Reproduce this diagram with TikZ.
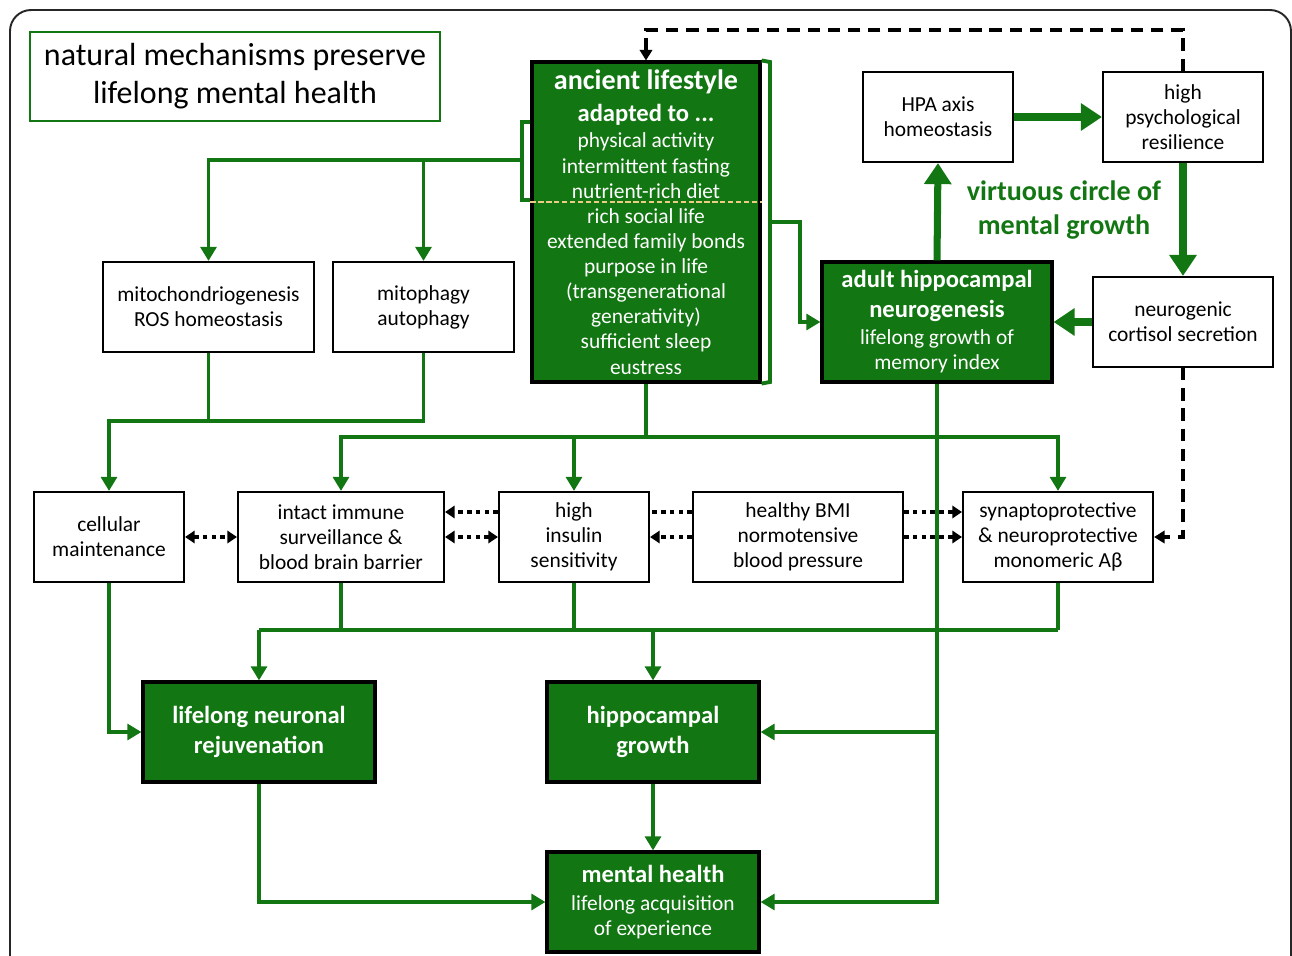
\documentclass[tikz,border=0pt]{standalone}
\usepackage{fontspec}
\setmainfont{Carlito}
\usetikzlibrary{arrows.meta}

\definecolor{dgreen}{RGB}{18,118,18}
\definecolor{sepcol}{RGB}{238,205,130}
\newcommand{\bxfont}{\fontsize{12.2}{14.3}\selectfont}
\newcommand{\hdfont}{\fontsize{14}{17}\selectfont\bfseries}

\tikzset{
  box/.style={draw=black, fill=white, line width=1.2pt, align=center, inner sep=1pt, font=\bxfont},
  gbox/.style={draw=black, fill=dgreen, text=white, line width=1.8pt, align=center, inner sep=1pt, font=\bxfont},
  gline/.style={draw=dgreen, line width=2.2pt},
  garrow/.style={gline, -{Triangle[length=8pt,width=9pt]}},
  bigarrow/.style={draw=dgreen, line width=4pt, -{Triangle[length=12pt,width=15pt]}},
  dashline/.style={draw=black, line width=2.3pt, dash pattern=on 7pt off 4.5pt, -{Triangle[length=6pt,width=7pt]}},
  dotline/.style={draw=black, line width=2.6pt, dash pattern=on 2.6pt off 2.4pt},
  tip/.style={-{Triangle[length=5.5pt,width=7pt]}},
  tips/.style={{Triangle[length=5.5pt,width=7pt]}-{Triangle[length=5.5pt,width=7pt]}}
}

\begin{document}
\begin{tikzpicture}[x=0.02cm, y=-0.02cm]
  \useasboundingbox (0,0) rectangle (1292,956);
  \clip (0,0) rectangle (1292,956);

  % frame
  \draw[line width=1.1pt, black!85, rounded corners=12pt] (10,1100) -- (10,10) -- (1291,10) -- (1291,1100);

  % title
  \node[draw=dgreen, line width=1pt, minimum width=8.2cm, minimum height=1.78cm, align=center,
        font=\fontsize{18.2}{21.5}\selectfont] (title) at (235,76.5)
        {natural mechanisms preserve\\lifelong mental health};

  % ancient lifestyle
  \node[gbox, minimum width=4.56cm, minimum height=6.4cm] (ancient) at (646,222)
        {{\fontsize{16}{17}\selectfont\bfseries ancient lifestyle}\\[3.7pt]
         {\hdfont adapted to ...}\\[1pt]
         physical activity\\intermittent fasting\\nutrient-rich diet\\
         rich social life\\extended family bonds\\purpose in life\\
         (transgenerational\\generativity)\\sufficient sleep\\eustress};
  \coordinate (sep) at (0,202);
  \draw[sepcol, line width=0.8pt, dash pattern=on 3pt off 1.5pt] (ancient.west |- sep) -- (ancient.east |- sep);

  % top row
  \node[box, minimum width=4.22cm, minimum height=1.8cm] (mito) at (208.5,307)
        {mitochondriogenesis\\ROS homeostasis};
  \node[box, minimum width=3.62cm, minimum height=1.8cm] (mitophagy) at (423.5,307)
        {mitophagy\\autophagy};
  \node[box, minimum width=3.0cm, minimum height=1.8cm] (hpa) at (938,117)
        {HPA axis\\homeostasis};
  \node[box, minimum width=3.2cm, minimum height=1.8cm] (psych) at (1183,117)
        {high\\psychological\\resilience};
  \node[box, minimum width=3.6cm, minimum height=1.8cm] (cortisol) at (1183,322)
        {neurogenic\\cortisol secretion};
  \node[gbox, minimum width=4.6cm, minimum height=2.4cm] (adult) at (937,322)
        {{\hdfont adult hippocampal}\\[2.7pt]
         {\hdfont neurogenesis}\\[1pt]
         lifelong growth of\\memory index};
  \node[text=dgreen, align=center, font=\fontsize{16}{19.3}\selectfont\bfseries] (circle) at (1064,210)
        {virtuous circle of\\mental growth};

  % middle row
  \node[box, minimum width=3.0cm, minimum height=1.8cm] (cell) at (109,537)
        {cellular\\maintenance};
  \node[box, minimum width=4.12cm, minimum height=1.8cm] (intact) at (341,537)
        {intact immune\\surveillance \&\\blood brain barrier};
  \node[box, minimum width=3.0cm, minimum height=1.8cm] (insulin) at (574,537)
        {high\\insulin\\sensitivity};
  \node[box, minimum width=4.2cm, minimum height=1.8cm] (bmi) at (798,537)
        {healthy BMI\\normotensive\\blood pressure};
  \node[box, minimum width=3.8cm, minimum height=1.8cm] (synapto) at (1058,537)
        {synaptoprotective\\\& neuroprotective\\monomeric Aβ};

  % bottom
  \node[gbox, font=\hdfont, minimum width=4.64cm, minimum height=2cm] (rejuv) at (259,732)
        {lifelong neuronal\\rejuvenation};
  \node[gbox, font=\hdfont, minimum width=4.24cm, minimum height=2cm] (hgrowth) at (653,732)
        {hippocampal\\growth};
  \node[gbox, minimum width=4.24cm, minimum height=2cm] (mental) at (653,902)
        {{\hdfont mental health}\\[1.6pt]
         lifelong acquisition\\of experience};

  % brackets
  \coordinate (lbt) at (522,122);
  \coordinate (lbb) at (522,200);
  \coordinate (lbm) at (522,160);
  \coordinate (rbt) at (770,62);
  \coordinate (rbb) at (770,382);
  \coordinate (rbm) at (770,222);
  \coordinate (rbk) at (800,222);
  \draw[gline] (ancient.west |- lbt) -- (lbt) -- (lbb) -- (ancient.west |- lbb);
  \draw[gline] (ancient.north east) -- (rbt) -- (rbb) -- (ancient.south east);
  \draw[garrow] (lbm) -| (mito.north);
  \draw[garrow] (mitophagy.north |- lbm) -- (mitophagy.north);
  \draw[garrow] (rbm) -- (rbk) |- (adult.west);

  % down from top row
  \coordinate (j1) at (208.5,421);
  \coordinate (j2) at (646,437);
  \coordinate (j3) at (574,630);
  \draw[gline] (mito.south) -- (j1) -| (mitophagy.south);
  \draw[garrow] (j1) -| (cell.north);
  \draw[gline] (ancient.south) -- (j2);
  \draw[garrow] (j2) -| (intact.north);
  \draw[garrow] (j2) -| (synapto.north);
  \draw[garrow] (insulin.north |- j2) -- (insulin.north);

  % virtuous circle
  \draw[bigarrow] (hpa.east) -- (psych.west);
  \draw[bigarrow] (psych.south) -- (cortisol.north);
  \draw[bigarrow] (cortisol.west) -- (adult.east);
  \draw[bigarrow] (adult.north) -- (hpa.south);

  % feedback
  \coordinate (top) at (646,30);
  \draw[dashline] (psych.north) |- (top) -- (ancient.north);
  \draw[dashline] (cortisol.south) |- (synapto.east);

  % dotted links
  \coordinate (r1) at (0,512);
  \coordinate (r2) at (0,537);
  \draw[dotline, tips] (cell.east) -- (intact.west);
  \draw[dotline, tip] (insulin.west |- r1) -- (intact.east |- r1);
  \draw[dotline, tips] (insulin.west) -- (intact.east);
  \draw[dotline] (bmi.west |- r1) -- (insulin.east |- r1);
  \draw[dotline, tip] (bmi.west) -- (insulin.east);
  \draw[dotline, tip] (bmi.east |- r1) -- (synapto.west |- r1);
  \draw[dotline, tip] (bmi.east) -- (synapto.west);

  % to bottom row
  \draw[gline] (intact.south) -- (intact.south |- j3);
  \draw[gline] (insulin.south) -- (j3);
  \draw[gline] (synapto.south) -- (synapto.south |- j3);
  \draw[gline] (rejuv.north |- j3) -- (synapto.south |- j3);
  \draw[garrow] (rejuv.north |- j3) -- (rejuv.north);
  \draw[garrow] (hgrowth.north |- j3) -- (hgrowth.north);
  \draw[garrow] (cell.south) |- (rejuv.west);
  \draw[garrow] (adult.south) |- (mental.east);
  \draw[garrow] (adult.south |- hgrowth.east) -- (hgrowth.east);
  \draw[garrow] (hgrowth.south) -- (mental.north);
  \draw[garrow] (rejuv.south) |- (mental.west);

\end{tikzpicture}
\end{document}
